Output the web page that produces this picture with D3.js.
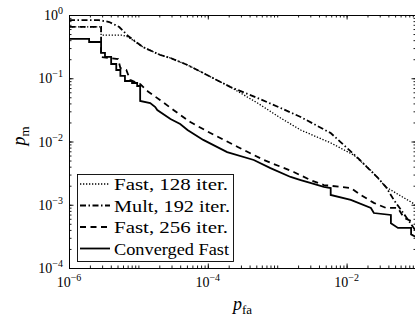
<!DOCTYPE html>
<html>
<head>
<meta charset="utf-8">
<script src="https://cdn.jsdelivr.net/npm/d3@7"></script>
<style>
html, body { margin: 0; padding: 0; background: #fff; }
svg { display: block; font-family: "Liberation Serif", "Times New Roman", serif; }
</style>
</head>
<body>
<div id="chart"></div>
<script>
// [p_fa, p_m] pairs
var fast128 = [[1e-6,0.65],[2.9e-6,0.65],[2.9e-6,0.48],[5.8e-6,0.48],[7.1e-6,0.45],[1.17e-5,0.31],
    [2.07e-5,0.233],[2.9e-5,0.209],[5.1e-5,0.162],[8.6e-5,0.121],[2.1e-4,0.073],[5.2e-4,0.0406],
    [1.12e-3,0.0235],[2.18e-3,0.0152],[5.9e-3,0.0095],[1.27e-2,0.0061],[2.24e-2,0.0035],
    [3.7e-2,0.0019],[1e-1,0.00099]];

var mult192 = [[1e-6,0.83],[2.7e-6,0.83],[3.8e-6,0.775],[5.3e-6,0.646],[7.1e-6,0.466],[1.17e-5,0.31],
    [2.07e-5,0.233],[2.9e-5,0.209],[5.1e-5,0.162],[8.6e-5,0.121],[2.1e-4,0.073],[5.2e-4,0.0487],
    [1.12e-3,0.0339],[2.18e-3,0.0244],[5.9e-3,0.0136],[8.2e-3,0.0098],[1.45e-2,0.0055],
    [2.83e-2,0.00265],[3.7e-2,0.0019],[4.8e-2,0.00119],[7.2e-2,0.00064],[1e-1,0.00038]];

var fast256 = [[1e-6,0.65],[2.9e-6,0.65],[2.9e-6,0.217],[5.1e-6,0.201],[5.5e-6,0.145],[6.7e-6,0.135],
    [7.6e-6,0.094],[1.06e-5,0.081],[1.39e-5,0.061],[2.07e-5,0.045],[3.2e-5,0.0315],[5.6e-5,0.0203],
    [1.09e-4,0.0136],[2.7e-4,0.0082],[6.4e-4,0.0051],[1.73e-3,0.0033],[3.0e-3,0.00246],
    [4.7e-3,0.00205],[1.15e-2,0.00184],[1.6e-2,0.00143],[2.47e-2,0.00107],[3.7e-2,0.00089],
    [5.5e-2,0.00089],[6.7e-2,0.00062],[1e-1,0.00051]];

var converged = [[1e-6,0.42],[1.95e-6,0.42],[1.95e-6,0.374],[2.9e-6,0.374],[2.9e-6,0.251],[3.3e-6,0.251],
    [3.3e-6,0.217],[4.05e-6,0.217],[4.05e-6,0.168],[4.8e-6,0.168],[4.8e-6,0.135],[5.5e-6,0.135],
    [5.5e-6,0.109],[6.4e-6,0.109],[6.4e-6,0.0905],[8.1e-6,0.0905],[8.1e-6,0.0841],[9.6e-6,0.0841],
    [9.6e-6,0.0754],[1.06e-5,0.0754],[1.06e-5,0.0437],[1.48e-5,0.0406],[1.75e-5,0.0351],
    [1.87e-5,0.0315],[2.9e-5,0.0227],[4.0e-5,0.0189],[5.1e-5,0.0152],[8.6e-5,0.0106],
    [1.9e-4,0.0068],[4.6e-4,0.0051],[8.0e-4,0.0038],[1.56e-3,0.00275],[2.18e-3,0.00246],
    [3.0e-3,0.00221],[4.7e-3,0.00191],[5.9e-3,0.00184],[5.9e-3,0.00143],[1.15e-2,0.00119],
    [2.24e-2,0.00089],[2.47e-2,0.00074],[4.35e-2,0.00069],[4.35e-2,0.00051],[5.5e-2,0.00043],
    [8.5e-2,0.00043],[8.5e-2,0.00034],[1e-1,0.00031]];

var seriesNames = ["Fast, 128 iter.", "Mult, 192 iter.", "Fast, 256 iter.", "Converged Fast"];
var xTickLabels = [1e-6, 1e-4, 1e-2];
var yTickLabels = [1e0, 1e-1, 1e-2, 1e-3, 1e-4];

var W = 415, H = 320;
var plot = { left: 69, right: 416, top: 15, bottom: 268 };

var series = [
    { name: seriesNames[0], data: fast128,   dash: "1.3,1.7",       width: 1.3 },
    { name: seriesNames[1], data: mult192,   dash: "6,2.5,1.5,2.5", width: 1.8 },
    { name: seriesNames[2], data: fast256,   dash: "6,4.5",         width: 1.8 },
    { name: seriesNames[3], data: converged, dash: null,            width: 1.8 }
];

var svg = d3.select("#chart").append("svg")
    .attr("width", W)
    .attr("height", H);

var x = d3.scaleLog().domain([1e-6, 1e-1]).range([plot.left, plot.right]);
var y = d3.scaleLog().domain([1e-4, 1e0]).range([plot.bottom, plot.top]);

// log minor ticks, 1..9 per decade
function minorTicks(lo, hi) {
    var t = [];
    for (var e = lo; e < hi; ++e)
        for (var k = 1; k < 10; ++k) t.push(k * Math.pow(10, e));
    t.push(Math.pow(10, hi));
    return t;
}
var xMinor = minorTicks(-6, -1);
var yMinor = minorTicks(-4, 0);

svg.append("defs").append("clipPath").attr("id", "plotclip")
    .append("rect")
    .attr("x", plot.left).attr("y", plot.top)
    .attr("width", plot.right - plot.left).attr("height", plot.bottom - plot.top);

var line = d3.line()
    .x(function(d) { return x(d[0]); })
    .y(function(d) { return y(d[1]); });

var lines = svg.append("g").attr("clip-path", "url(#plotclip)");
series.forEach(function(s) {
    lines.append("path")
        .datum(s.data)
        .attr("d", line)
        .attr("fill", "none")
        .attr("stroke", "#000")
        .attr("stroke-width", s.width)
        .attr("stroke-dasharray", s.dash)
        .attr("stroke-linejoin", "miter");
});

// axes, ticks pointing inward on all four sides
function styleAxis(g) {
    g.selectAll("path, line").attr("stroke", "#000").attr("stroke-width", 0.9);
}
var axes = [
    [d3.axisBottom(x), "translate(0," + plot.bottom + ")", xMinor, xTickLabels],
    [d3.axisTop(x), "translate(0," + plot.top + ")", xMinor, xTickLabels],
    [d3.axisLeft(y), "translate(" + plot.left + ",0)", yMinor, yTickLabels],
    [d3.axisRight(y), "translate(" + plot.right + ",0)", yMinor, yTickLabels]
];
axes.forEach(function(a) {
    svg.append("g").attr("transform", a[1])
        .call(a[0].tickValues(a[2]).tickSize(-2.5).tickSizeOuter(0).tickFormat(""))
        .call(styleAxis);
    svg.append("g").attr("transform", a[1])
        .call(a[0].tickValues(a[3]).tickSize(-4.5).tickSizeOuter(0).tickFormat(""))
        .call(styleAxis);
});

function powText(sel, v) {
    var e = Math.round(Math.log10(v));
    sel.append("tspan").text("10");
    sel.append("tspan").attr("dy", -6).attr("font-size", 10)
        .text(e < 0 ? "\u2212" + (-e) : String(e));
}

svg.append("g").selectAll("text")
    .data(xTickLabels)
    .join("text")
    .attr("x", function(d) { return x(d); })
    .attr("y", 287)
    .attr("text-anchor", "middle")
    .attr("font-size", 14)
    .each(function(d) { powText(d3.select(this), d); });

svg.append("g").selectAll("text")
    .data(yTickLabels)
    .join("text")
    .attr("x", 63)
    .attr("y", function(d) { return y(d) + 5; })
    .attr("text-anchor", "end")
    .attr("font-size", 14)
    .each(function(d) { powText(d3.select(this), d); });

// axis titles
var xt = svg.append("text")
    .attr("x", (plot.left + plot.right) / 2)
    .attr("y", 310)
    .attr("text-anchor", "middle")
    .attr("font-size", 18);
xt.append("tspan").attr("font-style", "italic").text("p");
xt.append("tspan").attr("dy", 3.5).attr("font-size", 13).text("fa");

var yt = svg.append("text")
    .attr("transform", "translate(25," + 136 + ") rotate(-90)")
    .attr("text-anchor", "middle")
    .attr("font-size", 18);
yt.append("tspan").attr("font-style", "italic").text("p");
yt.append("tspan").attr("dy", 3.5).attr("font-size", 13).text("m");

// legend
var legend = svg.append("g").attr("transform", "translate(77,174)");
legend.append("rect")
    .attr("x", 0.5).attr("y", 0.5)
    .attr("width", 156).attr("height", 87)
    .attr("fill", "#fff")
    .attr("stroke", "#000")
    .attr("stroke-width", 0.9);

var textWidths = [114, 116, 114, 115];
series.forEach(function(s, i) {
    var ly = 10 + i * 21.5;
    legend.append("line")
        .attr("x1", 3).attr("x2", 33)
        .attr("y1", ly).attr("y2", ly)
        .attr("stroke", "#000")
        .attr("stroke-width", s.width)
        .attr("stroke-dasharray", s.dash);
    legend.append("text")
        .attr("x", 37)
        .attr("y", ly + 6)
        .attr("font-size", 17)
        .attr("textLength", textWidths[i])
        .attr("lengthAdjust", "spacingAndGlyphs")
        .text(s.name);
});
</script>
</body>
</html>
